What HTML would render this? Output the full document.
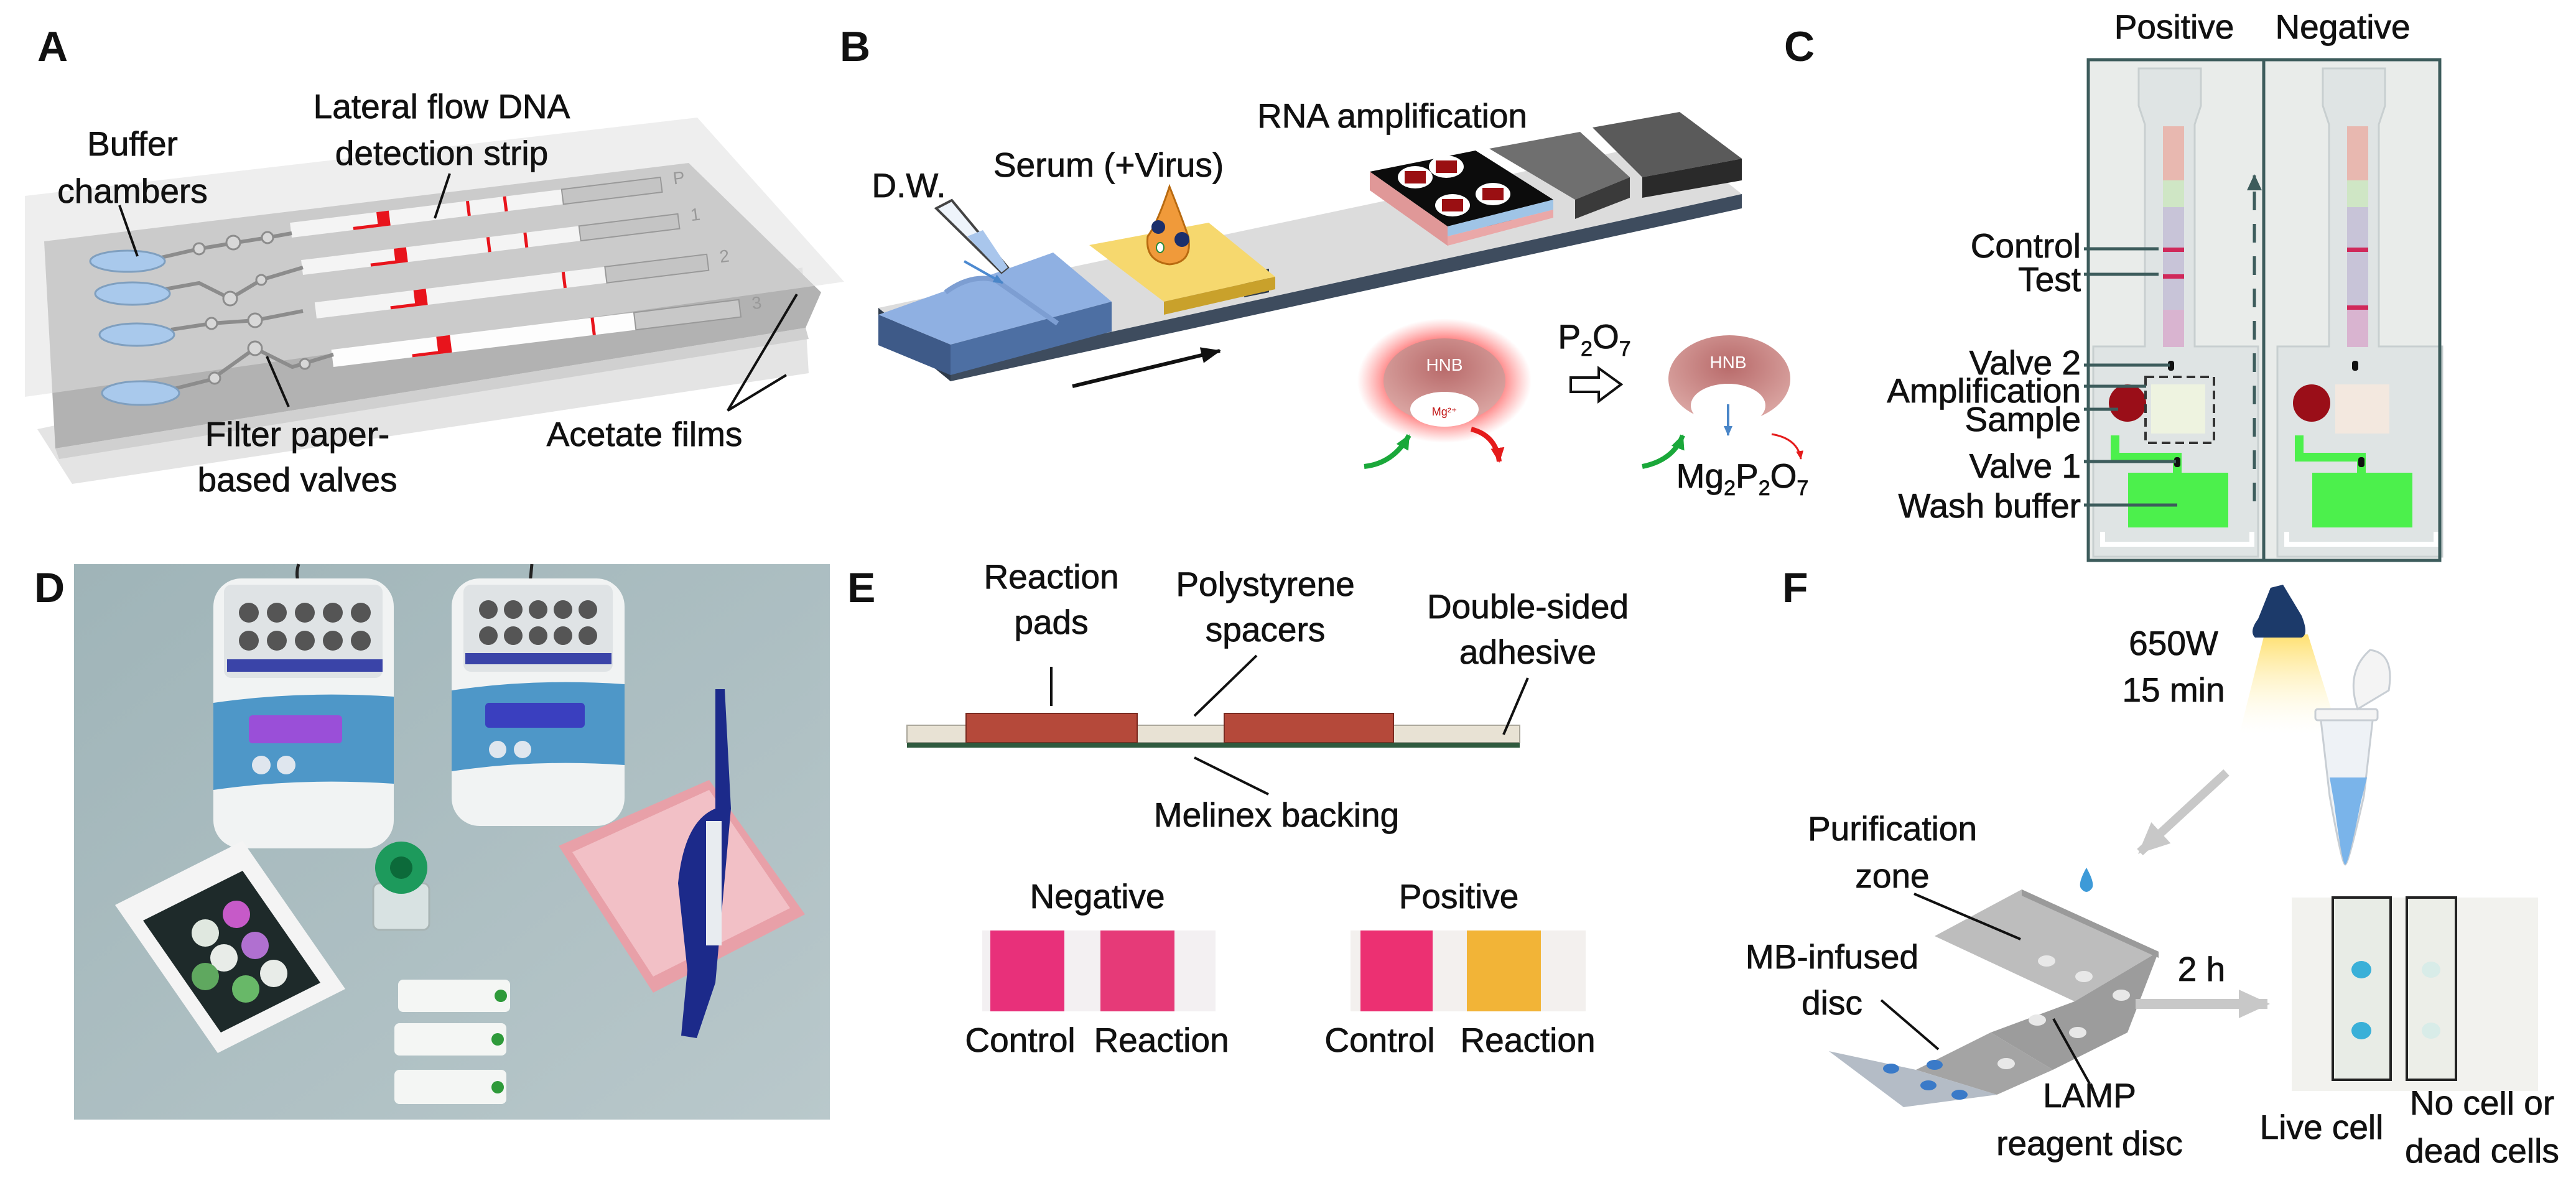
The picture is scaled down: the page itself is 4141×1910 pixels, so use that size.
<!DOCTYPE html>
<html><head><meta charset="utf-8">
<style>
html,body{margin:0;padding:0;background:#fff;}
svg{display:block;}
text{font-family:"Liberation Sans",sans-serif;fill:#111;}
.l{font-size:55px;stroke:#111;stroke-width:0.8px;}
.p{font-size:68px;font-weight:bold;}
</style></head><body>
<svg width="4141" height="1910" viewBox="0 0 4141 1910" xmlns="http://www.w3.org/2000/svg">
<defs>
<radialGradient id="glow" cx="50%" cy="50%" r="50%">
<stop offset="55%" stop-color="#ff4040" stop-opacity="0.9"/>
<stop offset="100%" stop-color="#ff6060" stop-opacity="0"/>
</radialGradient>
<radialGradient id="hnb" cx="50%" cy="35%" r="60%">
<stop offset="0%" stop-color="#b86a6a"/>
<stop offset="100%" stop-color="#d9a3a0"/>
</radialGradient>
<linearGradient id="dbg" x1="0" y1="0" x2="1" y2="1">
<stop offset="0" stop-color="#9fb4b8"/><stop offset="1" stop-color="#b9c8cb"/>
</linearGradient>
<linearGradient id="cone" x1="0" y1="0" x2="0" y2="1">
<stop offset="0" stop-color="#ffe070"/><stop offset="1" stop-color="#fffbe0" stop-opacity="0"/>
</linearGradient>
<marker id="ah" markerUnits="userSpaceOnUse" markerWidth="32" markerHeight="26" refX="30" refY="13" orient="auto"><path d="M0,0 L32,13 L0,26 z" fill="#111"/></marker>
<marker id="ahs" markerUnits="userSpaceOnUse" markerWidth="16" markerHeight="14" refX="15" refY="7" orient="auto"><path d="M0,0 L16,7 L0,14 z" fill="#4a86c8"/></marker>
<marker id="ahg" markerUnits="userSpaceOnUse" markerWidth="24" markerHeight="22" refX="22" refY="11" orient="auto"><path d="M0,0 L24,11 L0,22 z" fill="#1aa83a"/></marker>
<marker id="ahr" markerUnits="userSpaceOnUse" markerWidth="24" markerHeight="22" refX="22" refY="11" orient="auto"><path d="M0,0 L24,11 L0,22 z" fill="#e51b1b"/></marker>
<marker id="ahr2" markerUnits="userSpaceOnUse" markerWidth="14" markerHeight="12" refX="13" refY="6" orient="auto"><path d="M0,0 L14,6 L0,12 z" fill="#e51b1b"/></marker>
<marker id="aht" markerUnits="userSpaceOnUse" markerWidth="26" markerHeight="24" refX="24" refY="12" orient="auto"><path d="M0,0 L26,12 L0,24 z" fill="#3d5c5c"/></marker>
<marker id="ahgr" markerUnits="userSpaceOnUse" markerWidth="50" markerHeight="46" refX="46" refY="23" orient="auto"><path d="M0,0 L50,23 L0,46 z" fill="#c8c8c8"/></marker>
</defs>

<text class="p" x="60" y="98">A</text>
<text class="p" x="1350" y="98">B</text>
<text class="p" x="2868" y="98">C</text>
<text class="p" x="55" y="968">D</text>
<text class="p" x="1362" y="968">E</text>
<text class="p" x="2865" y="968">F</text>

<!-- ===== Panel A ===== -->
<polygon points="60,690 1290,430 1300,600 116,778" fill="#e4e4e4"/>
<polygon points="71,388 1107,262 1320,470 1295,527 89,721" fill="#b2b2b2"/>
<polygon points="89,721 1295,527 1300,545 95,738" fill="#d0d0d0"/>
<polygon points="40,315 1121,189 1357,453 40,638" fill="#e0e0e0" opacity="0.55"/>
<g>
 <g transform="translate(469,382) rotate(-7)">
  <rect x="0" y="-24" width="440" height="24" fill="#f4f4f4"/><rect x="440" y="-24" width="160" height="24" fill="#c4c4c4" stroke="#999" stroke-width="2"/>
  <polygon points="140,-24 160,-24 160,0 100,0 100,-5 140,-5" fill="#e8141c"/>
  <rect x="285" y="-24" width="5" height="24" fill="#e8141c"/><rect x="345" y="-24" width="5" height="24" fill="#e8141c"/>
  <text x="620" y="-10" style="font-size:28px;fill:#999">P</text>
 </g>
 <g transform="translate(487,442) rotate(-7)">
  <rect x="0" y="-24" width="450" height="24" fill="#f4f4f4"/><rect x="450" y="-24" width="160" height="24" fill="#c4c4c4" stroke="#999" stroke-width="2"/>
  <polygon points="150,-24 170,-24 170,0 110,0 110,-5 150,-5" fill="#e8141c"/>
  <rect x="300" y="-24" width="5" height="24" fill="#e8141c"/><rect x="360" y="-24" width="5" height="24" fill="#e8141c"/>
  <text x="630" y="-10" style="font-size:28px;fill:#999">1</text>
 </g>
 <g transform="translate(509,512) rotate(-7)">
  <rect x="0" y="-26" width="470" height="26" fill="#f4f4f4"/><rect x="470" y="-26" width="165" height="26" fill="#c4c4c4" stroke="#999" stroke-width="2"/>
  <polygon points="160,-26 180,-26 180,0 120,0 120,-5 160,-5" fill="#e8141c"/>
  <rect x="400" y="-26" width="5" height="26" fill="#e8141c"/>
  <text x="655" y="-10" style="font-size:28px;fill:#999">2</text>
 </g>
 <g transform="translate(536,590) rotate(-7)">
  <rect x="0" y="-28" width="490" height="28" fill="#fdfdfd"/><rect x="490" y="-28" width="170" height="28" fill="#c8c8c8" stroke="#999" stroke-width="2"/>
  <polygon points="170,-28 192,-28 192,0 128,0 128,-5 170,-5" fill="#e8141c"/>
  <rect x="420" y="-28" width="5" height="28" fill="#e8141c"/>
  <text x="680" y="-10" style="font-size:28px;fill:#999">3</text>
 </g>
</g>
<g stroke="#8c8c8c" stroke-width="6" fill="none">
 <polyline points="255,415 320,400 380,390 430,382 469,375"/>
 <polyline points="265,465 320,455 370,480 420,450 487,430"/>
 <polyline points="275,530 340,520 410,515 487,500"/>
 <polyline points="280,625 340,610 410,560 470,590 536,570"/>
</g>
<g fill="#d8d8d8" stroke="#8c8c8c" stroke-width="3">
 <circle cx="320" cy="400" r="9"/><circle cx="375" cy="390" r="11"/><circle cx="430" cy="382" r="9"/>
 <circle cx="370" cy="480" r="11"/><circle cx="420" cy="450" r="8"/>
 <circle cx="340" cy="520" r="9"/><circle cx="410" cy="515" r="11"/>
 <circle cx="410" cy="560" r="11"/><circle cx="345" cy="608" r="9"/><circle cx="490" cy="585" r="8"/>
</g>
<g fill="#a9c9ec" stroke="#7f9fbf" stroke-width="3">
 <ellipse cx="205" cy="420" rx="60" ry="17"/>
 <ellipse cx="213" cy="472" rx="60" ry="18"/>
 <ellipse cx="220" cy="538" rx="60" ry="18"/>
 <ellipse cx="226" cy="632" rx="62" ry="19"/>
</g>
<g stroke="#111" stroke-width="4" fill="none">
 <line x1="192" y1="330" x2="221" y2="412"/>
 <line x1="723" y1="279" x2="699" y2="351"/>
 <line x1="464" y1="654" x2="429" y2="573"/>
 <polyline points="1281,473 1170,660 1264,603"/>
</g>
<g class="l" text-anchor="middle">
 <text x="213" y="250">Buffer</text>
 <text x="213" y="326">chambers</text>
 <text x="710" y="190">Lateral flow DNA</text>
 <text x="710" y="265">detection strip</text>
 <text x="478" y="717">Filter paper-</text>
 <text x="478" y="790">based valves</text>
 <text x="1036" y="717">Acetate films</text>
</g>

<!-- ===== Panel B ===== -->
<polygon points="1412,495 2690,225 2800,312 1528,590" fill="#dcdcdc"/>
<polygon points="1528,590 2800,312 2800,335 1528,613" fill="#3e4c5e"/>
<polygon points="1412,495 1528,590 1528,613 1412,518" fill="#2f3b4b"/>
<polygon points="1412,506 1693,406 1787,485 1528,554" fill="#8fb0e2"/>
<polygon points="1528,554 1787,485 1787,533 1528,603" fill="#4d6fa3"/>
<polygon points="1412,506 1528,554 1528,603 1412,555" fill="#3e5a88"/>
<path d="M1520,470 Q1560,440 1600,450 L1700,520" stroke="#7d9ed2" stroke-width="8" fill="none"/>
<polygon points="1505,335 1530,322 1620,430 1610,438" fill="#eef4fb" stroke="#444" stroke-width="4"/>
<polygon points="1555,380 1580,370 1620,430 1610,438" fill="#a9c6ec"/>
<line x1="1550" y1="420" x2="1612" y2="455" stroke="#4d8ad0" stroke-width="4" marker-end="url(#ahs)"/>
<polygon points="2000,440 2040,432 2040,470 2000,478" fill="#2f3b4b"/>
<polygon points="1751,394 1943,358 2050,445 1871,485" fill="#f6d86e"/>
<polygon points="1871,485 2050,445 2050,465 1871,506" fill="#c9a12b"/>
<path d="M1880,300 Q1860,360 1845,380 Q1840,420 1880,425 Q1918,422 1910,380 Q1900,350 1880,300z" fill="#f09a3a" stroke="#b86a10" stroke-width="3"/>
<circle cx="1862" cy="365" r="11" fill="#1c2f6b"/><circle cx="1900" cy="385" r="12" fill="#1c2f6b"/>
<ellipse cx="1865" cy="398" rx="6" ry="8" fill="#fff" stroke="#2a8a3a" stroke-width="2"/>
<polygon points="2390,320 2430,312 2430,360 2390,368" fill="#3e4c5e"/>
<polygon points="2202,276 2372,242 2497,321 2327,364" fill="#0c0c0c"/>
<polygon points="2327,364 2497,321 2497,337 2327,380" fill="#9fc4e6"/>
<polygon points="2327,380 2497,337 2497,350 2327,395" fill="#eaa8a8"/>
<polygon points="2202,276 2327,364 2327,395 2202,306" fill="#e09898"/>
<g fill="#fff"><ellipse cx="2275" cy="285" rx="28" ry="18"/><ellipse cx="2325" cy="268" rx="28" ry="18"/><ellipse cx="2335" cy="330" rx="28" ry="18"/><ellipse cx="2400" cy="312" rx="28" ry="18"/></g>
<g fill="#9a0f12"><rect x="2258" y="275" width="34" height="20"/><rect x="2308" y="258" width="34" height="20"/><rect x="2318" y="320" width="34" height="20"/><rect x="2383" y="302" width="34" height="20"/></g>
<polygon points="2394,239 2540,212 2620,285 2532,321" fill="#6f6f6f"/>
<polygon points="2532,321 2620,285 2620,318 2532,352" fill="#3a3a3a"/>
<polygon points="2560,205 2700,180 2800,255 2640,285" fill="#5a5a5a"/>
<polygon points="2640,285 2800,255 2800,290 2640,318" fill="#2a2a2a"/>
<line x1="1724" y1="621" x2="1961" y2="564" stroke="#111" stroke-width="6" marker-end="url(#ah)"/>
<ellipse cx="2322" cy="612" rx="140" ry="100" fill="url(#glow)"/>
<ellipse cx="2322" cy="612" rx="98" ry="68" fill="url(#hnb)"/>
<ellipse cx="2322" cy="658" rx="55" ry="28" fill="#fff"/>
<text x="2322" y="596" text-anchor="middle" style="font-size:28px;fill:#fff">HNB</text>
<text x="2322" y="668" text-anchor="middle" style="font-size:18px;fill:#c01010">Mg²⁺</text>
<path d="M2193,750 Q2240,745 2265,700" stroke="#1aa83a" stroke-width="8" fill="none" marker-end="url(#ahg)"/>
<path d="M2365,690 Q2405,700 2410,742" stroke="#e51b1b" stroke-width="8" fill="none" marker-end="url(#ahr)"/>
<text x="2563" y="560" text-anchor="middle" class="l">P<tspan dy="12" style="font-size:34px">2</tspan><tspan dy="-12">O</tspan><tspan dy="12" style="font-size:34px">7</tspan></text>
<polygon points="2525,607 2570,607 2570,592 2606,618 2570,645 2570,630 2525,630" fill="#fff" stroke="#111" stroke-width="4"/>
<ellipse cx="2780" cy="609" rx="98" ry="70" fill="url(#hnb)"/>
<ellipse cx="2778" cy="652" rx="60" ry="35" fill="#fff"/>
<text x="2778" y="592" text-anchor="middle" style="font-size:28px;fill:#fff">HNB</text>
<line x1="2778" y1="650" x2="2778" y2="700" stroke="#4a86c8" stroke-width="4" marker-end="url(#ahs)"/>
<path d="M2640,750 Q2690,740 2705,700" stroke="#1aa83a" stroke-width="8" fill="none" marker-end="url(#ahg)"/>
<path d="M2848,698 Q2890,705 2895,738" stroke="#e51b1b" stroke-width="3" fill="none" marker-end="url(#ahr2)"/>
<text x="2801" y="784" text-anchor="middle" class="l">Mg<tspan dy="12" style="font-size:34px">2</tspan><tspan dy="-12">P</tspan><tspan dy="12" style="font-size:34px">2</tspan><tspan dy="-12">O</tspan><tspan dy="12" style="font-size:34px">7</tspan></text>
<g class="l" text-anchor="middle">
 <text x="1461" y="317">D.W.</text>
 <text x="1782" y="284">Serum (+Virus)</text>
 <text x="2238" y="205">RNA amplification</text>
</g>

<!-- ===== Panel C ===== -->
<g class="l" text-anchor="middle">
 <text x="3495" y="62">Positive</text>
 <text x="3766" y="62">Negative</text>
</g>
<rect x="3357" y="96" width="565" height="805" fill="#e9ecea"/>
<g id="strip">
 <path d="M3438,110 L3538,110 L3538,170 L3528,200 L3528,557 L3630,557 L3630,895 L3365,895 L3365,557 L3448,557 L3448,200 L3438,170z" fill="#dfe4e4" stroke="#c8cfd0" stroke-width="3"/>
 <rect x="3477" y="203" width="34" height="130" fill="#e8b8b0"/>
 <rect x="3477" y="290" width="34" height="43" fill="#cfe6c5"/>
 <rect x="3477" y="333" width="34" height="165" fill="#c8c4d8"/>
 <rect x="3477" y="498" width="34" height="60" fill="#d9b4d0"/>
 <rect x="3421" y="760" width="161" height="88" fill="#4cf04c"/>
 <path d="M3400,700 L3400,735 L3500,735 L3500,760" stroke="#4cf04c" stroke-width="14" fill="none"/>
 <path d="M3380,855 L3380,875 L3620,875 L3620,855" stroke="#fff" stroke-width="8" fill="none"/>
</g>
<use href="#strip" transform="translate(296,0)"/>
<rect x="3477" y="398" width="34" height="7" fill="#d0285a"/>
<rect x="3477" y="441" width="34" height="7" fill="#d0285a"/>
<rect x="3458" y="618" width="87" height="79" fill="#eef3e0"/>
<circle cx="3420" cy="648" r="30" fill="#9a0e18"/>
<rect x="3449" y="606" width="110" height="106" fill="none" stroke="#333" stroke-width="4" stroke-dasharray="14,8"/>
<rect x="3485" y="580" width="10" height="16" rx="4" fill="#111"/>
<rect x="3495" y="735" width="10" height="16" rx="4" fill="#111"/>
<rect x="3773" y="398" width="34" height="7" fill="#d0285a"/>
<rect x="3773" y="491" width="34" height="7" fill="#d0285a"/>
<rect x="3754" y="618" width="87" height="79" fill="#f3e8df"/>
<circle cx="3716" cy="648" r="30" fill="#9a0e18"/>
<rect x="3781" y="580" width="10" height="16" rx="4" fill="#111"/>
<rect x="3791" y="735" width="10" height="16" rx="4" fill="#111"/>
<rect x="3357" y="96" width="565" height="805" fill="none" stroke="#3d5c5c" stroke-width="5"/>
<line x1="3639" y1="96" x2="3639" y2="901" stroke="#3d5c5c" stroke-width="5"/>
<line x1="3624" y1="806" x2="3624" y2="282" stroke="#3d5c5c" stroke-width="5" stroke-dasharray="30,22" marker-end="url(#aht)"/>
<g stroke="#3d5c5c" stroke-width="5">
 <line x1="3350" y1="400" x2="3470" y2="400"/>
 <line x1="3350" y1="441" x2="3470" y2="441"/>
 <line x1="3350" y1="587" x2="3488" y2="587"/>
 <line x1="3350" y1="621" x2="3450" y2="621"/>
 <line x1="3350" y1="658" x2="3405" y2="658"/>
 <line x1="3350" y1="742" x2="3498" y2="742"/>
 <line x1="3350" y1="812" x2="3500" y2="812"/>
</g>
<g class="l" text-anchor="end">
 <text x="3345" y="414">Control</text>
 <text x="3345" y="468">Test</text>
 <text x="3345" y="602">Valve 2</text>
 <text x="3345" y="647">Amplification</text>
 <text x="3345" y="693">Sample</text>
 <text x="3345" y="768">Valve 1</text>
 <text x="3345" y="832">Wash buffer</text>
</g>

<!-- ===== Panel D (photo) ===== -->
<rect x="119" y="907" width="1215" height="893" fill="url(#dbg)"/>
<path d="M480,907 Q470,940 500,960" stroke="#222" stroke-width="5" fill="none"/>
<path d="M855,907 L850,960" stroke="#222" stroke-width="5" fill="none"/>
<rect x="343" y="930" width="290" height="434" rx="45" fill="#f1f3f3"/>
<rect x="360" y="940" width="255" height="150" rx="12" fill="#dfe3e5"/>
<g fill="#555"><circle cx="400" cy="985" r="16"/><circle cx="445" cy="985" r="16"/><circle cx="490" cy="985" r="16"/><circle cx="535" cy="985" r="16"/><circle cx="580" cy="985" r="16"/>
<circle cx="400" cy="1030" r="16"/><circle cx="445" cy="1030" r="16"/><circle cx="490" cy="1030" r="16"/><circle cx="535" cy="1030" r="16"/><circle cx="580" cy="1030" r="16"/></g>
<rect x="365" y="1060" width="250" height="20" fill="#3a44a8"/>
<path d="M343,1130 Q480,1110 633,1120 L633,1260 Q480,1250 343,1270z" fill="#4e97c8"/>
<rect x="400" y="1150" width="150" height="45" rx="6" fill="#9a4fd8"/>
<circle cx="420" cy="1230" r="15" fill="#dfe6ee"/><circle cx="460" cy="1230" r="15" fill="#dfe6ee"/>
<rect x="726" y="930" width="278" height="398" rx="45" fill="#f1f3f3"/>
<rect x="745" y="940" width="240" height="140" rx="12" fill="#dfe3e5"/>
<g fill="#555"><circle cx="785" cy="980" r="15"/><circle cx="825" cy="980" r="15"/><circle cx="865" cy="980" r="15"/><circle cx="905" cy="980" r="15"/><circle cx="945" cy="980" r="15"/>
<circle cx="785" cy="1022" r="15"/><circle cx="825" cy="1022" r="15"/><circle cx="865" cy="1022" r="15"/><circle cx="905" cy="1022" r="15"/><circle cx="945" cy="1022" r="15"/></g>
<rect x="748" y="1050" width="235" height="18" fill="#3a44a8"/>
<path d="M726,1110 Q860,1090 1004,1100 L1004,1230 Q860,1220 726,1240z" fill="#4e97c8"/>
<rect x="780" y="1130" width="160" height="40" rx="6" fill="#3a3fbf"/>
<circle cx="800" cy="1205" r="14" fill="#dfe6ee"/><circle cx="840" cy="1205" r="14" fill="#dfe6ee"/>
<polygon points="185,1455 390,1352 555,1590 350,1693" fill="#f4f4f4"/>
<polygon points="230,1480 390,1400 515,1580 355,1660" fill="#1e2a2a"/>
<g><circle cx="330" cy="1500" r="22" fill="#e0e8e0"/><circle cx="380" cy="1470" r="22" fill="#c65ac8"/><circle cx="360" cy="1540" r="22" fill="#e8ece8"/><circle cx="410" cy="1520" r="22" fill="#b070d0"/><circle cx="395" cy="1590" r="22" fill="#68b868"/><circle cx="440" cy="1565" r="22" fill="#e8ece8"/><circle cx="330" cy="1570" r="22" fill="#5fa85f"/></g>
<rect x="600" y="1420" width="90" height="75" rx="10" fill="#d8e2e2" stroke="#a8b4b4" stroke-width="3"/>
<circle cx="645" cy="1395" r="42" fill="#1d9a5c"/><circle cx="645" cy="1395" r="18" fill="#0c6a3a"/>
<polygon points="898,1360 1140,1254 1294,1470 1050,1596" fill="#e8a0a8"/>
<polygon points="920,1370 1140,1270 1270,1460 1050,1570" fill="#f2c0c6"/>
<path d="M1150,1108 L1165,1108 L1175,1300 L1150,1580 L1120,1669 L1095,1665 L1105,1560 L1090,1420 Q1100,1320 1150,1300z" fill="#1c2a8a"/>
<rect x="1135" y="1320" width="25" height="200" fill="#e8ecf0"/>
<rect x="640" y="1575" width="180" height="52" rx="8" fill="#f4f6f4"/><circle cx="805" cy="1601" r="10" fill="#2e9a3a"/>
<rect x="634" y="1645" width="180" height="52" rx="8" fill="#f4f6f4"/><circle cx="800" cy="1671" r="10" fill="#2e9a3a"/>
<rect x="634" y="1720" width="180" height="55" rx="8" fill="#f4f6f4"/><circle cx="800" cy="1748" r="10" fill="#2e9a3a"/>

<!-- ===== Panel E ===== -->
<rect x="1458" y="1166" width="985" height="28" fill="#e8e2d4" stroke="#aaa69a" stroke-width="2"/>
<rect x="1553" y="1147" width="275" height="47" fill="#b5493a" stroke="#7a2a20" stroke-width="2"/>
<rect x="1968" y="1147" width="272" height="47" fill="#b5493a" stroke="#7a2a20" stroke-width="2"/>
<rect x="1458" y="1194" width="985" height="8" fill="#2f5a3e"/>
<g stroke="#111" stroke-width="4">
 <line x1="1690" y1="1072" x2="1690" y2="1135"/>
 <line x1="2020" y1="1054" x2="1920" y2="1151"/>
 <line x1="2456" y1="1090" x2="2417" y2="1181"/>
 <line x1="2039" y1="1277" x2="1920" y2="1218"/>
</g>
<g class="l" text-anchor="middle">
 <text x="1690" y="946">Reaction</text>
 <text x="1690" y="1019">pads</text>
 <text x="2034" y="958">Polystyrene</text>
 <text x="2034" y="1031">spacers</text>
 <text x="2456" y="994">Double-sided</text>
 <text x="2456" y="1067">adhesive</text>
 <text x="2052" y="1329">Melinex backing</text>
 <text x="1764" y="1460">Negative</text>
 <text x="2345" y="1460">Positive</text>
 <text x="1640" y="1691">Control</text>
 <text x="1867" y="1691">Reaction</text>
 <text x="2218" y="1691">Control</text>
 <text x="2456" y="1691">Reaction</text>
</g>
<rect x="1579" y="1496" width="375" height="130" fill="#f3f0f2"/>
<rect x="1592" y="1496" width="119" height="130" fill="#e8307a"/>
<rect x="1769" y="1496" width="119" height="130" fill="#e63a78"/>
<rect x="2171" y="1496" width="378" height="130" fill="#f3f0ee"/>
<rect x="2187" y="1496" width="116" height="130" fill="#ec3072"/>
<rect x="2358" y="1496" width="119" height="130" fill="#f2b437"/>

<!-- ===== Panel F ===== -->
<g class="l" text-anchor="middle">
 <text x="3494" y="1053">650W</text>
 <text x="3494" y="1128">15 min</text>
 <text x="3042" y="1351">Purification</text>
 <text x="3042" y="1427">zone</text>
 <text x="2945" y="1557">MB-infused</text>
 <text x="2945" y="1631">disc</text>
 <text x="3539" y="1577">2 h</text>
 <text x="3359" y="1780">LAMP</text>
 <text x="3359" y="1857">reagent disc</text>
 <text x="3732" y="1831">Live cell</text>
 <text x="3990" y="1792">No cell or</text>
 <text x="3990" y="1869">dead cells</text>
</g>
<polygon points="3640,1020 3710,1020 3760,1180 3600,1180" fill="url(#cone)"/>
<path d="M3650,945 L3670,940 L3700,990 Q3712,1020 3700,1025 L3625,1025 Q3615,1015 3630,995z" fill="#1c3a6a"/>
<path d="M3730,1150 L3815,1150 L3800,1280 Q3775,1390 3770,1390 Q3765,1390 3745,1280z" fill="#eef2f6" stroke="#c8ced4" stroke-width="3"/>
<path d="M3745,1250 L3805,1250 L3795,1290 Q3775,1390 3770,1390 Q3765,1390 3752,1290z" fill="#7ab4ea"/>
<rect x="3722" y="1140" width="100" height="18" rx="4" fill="#f4f4f4" stroke="#c8ced4" stroke-width="3"/>
<path d="M3790,1140 Q3770,1080 3810,1045 Q3850,1050 3840,1110z" fill="#f4f4f4" stroke="#c8ced4" stroke-width="3"/>
<line x1="3579" y1="1242" x2="3440" y2="1370" stroke="#c8c8c8" stroke-width="14" marker-end="url(#ahgr)"/>
<path d="M3354,1395 Q3340,1420 3345,1428 Q3354,1440 3363,1428 Q3368,1420 3354,1395z" fill="#3d9ad8"/>
<polygon points="3110,1505 3250,1430 3470,1530 3335,1610" fill="#bdbdbd"/>
<polygon points="3250,1430 3470,1530 3470,1540 3250,1440" fill="#9a9a9a"/>
<polygon points="3335,1610 3470,1530 3420,1660 3300,1720 3200,1660" fill="#9c9c9c"/>
<polygon points="3200,1660 3300,1720 3210,1760 3080,1720" fill="#a4a4a4"/>
<polygon points="2940,1690 3080,1720 3210,1760 3060,1780" fill="#b4bcc6"/>
<g fill="#e8e8e8"><ellipse cx="3290" cy="1545" rx="14" ry="9"/><ellipse cx="3350" cy="1570" rx="14" ry="9"/><ellipse cx="3275" cy="1640" rx="14" ry="9"/><ellipse cx="3340" cy="1660" rx="14" ry="9"/><ellipse cx="3225" cy="1710" rx="14" ry="9"/><ellipse cx="3410" cy="1600" rx="14" ry="9"/></g>
<g fill="#3a7ac8"><ellipse cx="3040" cy="1718" rx="13" ry="8"/><ellipse cx="3100" cy="1745" rx="13" ry="8"/><ellipse cx="3150" cy="1760" rx="13" ry="8"/><ellipse cx="3110" cy="1712" rx="13" ry="8"/></g>
<g stroke="#111" stroke-width="4">
 <line x1="3077" y1="1437" x2="3248" y2="1510"/>
 <line x1="3024" y1="1608" x2="3116" y2="1687"/>
 <line x1="3359" y1="1742" x2="3301" y2="1638"/>
</g>
<line x1="3433" y1="1614" x2="3645" y2="1614" stroke="#c8c8c8" stroke-width="16" marker-end="url(#ahgr)"/>
<rect x="3684" y="1443" width="396" height="311" fill="#f2f2ee"/>
<rect x="3750" y="1443" width="93" height="293" fill="#e8ece6" stroke="#222" stroke-width="4"/>
<rect x="3869" y="1443" width="79" height="293" fill="#eceee8" stroke="#222" stroke-width="4"/>
<ellipse cx="3796" cy="1559" rx="16" ry="14" fill="#3ab0d8"/>
<ellipse cx="3796" cy="1657" rx="16" ry="14" fill="#3ab0d8"/>
<ellipse cx="3908" cy="1559" rx="15" ry="13" fill="#d8ece8"/>
<ellipse cx="3908" cy="1657" rx="15" ry="13" fill="#d8ece8"/>
</svg>
</body></html>
